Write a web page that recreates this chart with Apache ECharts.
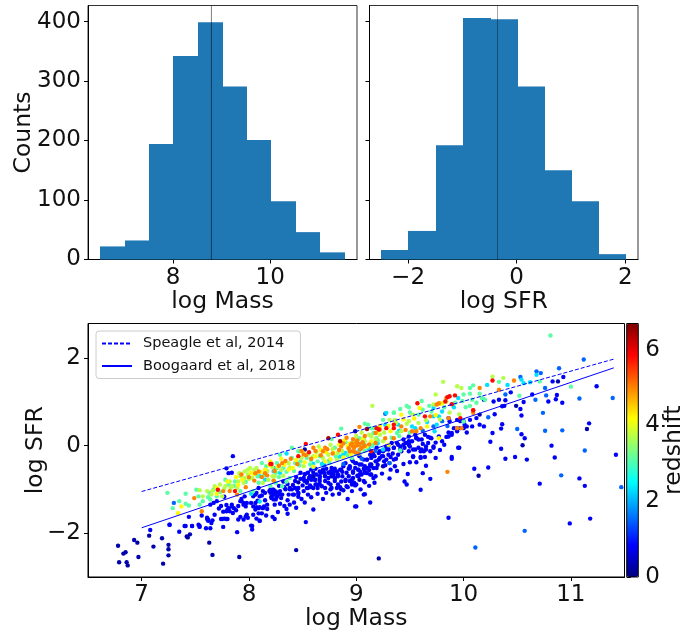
<!DOCTYPE html>
<html><head><meta charset="utf-8">
<style>html,body{margin:0;padding:0;background:#fff}#c{width:698px;height:635px}</style>
<script src="https://cdn.jsdelivr.net/npm/echarts@6/dist/echarts.min.js"></script>
</head><body><div id="c"></div>
<script>
// Histogram of log Mass
const massEdges = [6.5,7.0,7.5,8.0,8.51,9.02,9.52,10.02,10.53,11.03,11.55];
const massCounts = [22,32,194,342,399,291,201,98,46,12];
const massMedian = 8.79;
// Histogram of log SFR
const sfrEdges = [-2.5,-2.0,-1.49,-0.99,-0.47,0.02,0.52,1.02,1.51,2.01];
const sfrCounts = [16,48,192,406,404,291,150,98,9];
const sfrMedian = -0.353;
const countTicks = [0,100,200,300,400];
const massHistTicks = [8,10];
const sfrHistTicks = [-2,0,2];
const scatterXTicks = [7,8,9,10,11];
const scatterYTicks = [-2,0,2];
const redshiftTicks = [0,2,4,6];
// Relations
const speagleLine = [[7,-1.05],[11.4,1.98]];
const boogaardLine = [[7,-1.88],[11.4,1.78]];
// Scatter points [log Mass, log SFR], one list per redshift colour
const zNavy = 0.3, zBlue = 0.8, zSky = 1.5, zCyan = 2.3, zGreen = 3.1, zLime = 3.7, zYellow = 4.2, zOrange = 5.0, zRed = 5.8, zMaroon = 6.4;
const navyPts = [[6.78,-2.29],[6.79,-2.67],[6.83,-2.47],[6.85,-2.44],[6.86,-2.67],[6.87,-2.74],[6.93,-2.16],[6.96,-2.22],[6.97,-2.55],[7.07,-2.06],[7.11,-2.31],[7.19,-2.12],[7.20,-2.70],[7.25,-2.51],[7.25,-2.27],[7.25,-2.37],[7.42,-2.08],[7.43,-2.10],[7.45,-2.03],[7.63,-2.22],[7.66,-2.50],[7.91,-2.55],[8.44,-2.39],[9.21,-2.58],[10.49,0.91],[10.88,1.47],[9.15,-0.18],[9.25,-0.47],[8.77,-0.70],[8.86,-1.00],[10.15,0.71],[9.03,-0.78],[9.31,-0.40],[8.99,0.33],[8.52,-0.09],[10.14,-0.69],[11.15,0.38],[10.55,0.01],[8.60,-0.70],[8.90,-0.81],[9.14,-0.43],[8.46,-0.84],[9.00,-0.40]];
const bluePts = [[7.08,-1.93],[7.26,-1.81],[7.35,-1.97],[7.41,-1.84],[7.47,-1.84],[7.53,-1.81],[7.54,-1.84],[7.60,-1.89],[7.64,-1.89],[7.61,-1.68],[7.62,-1.72],[7.66,-1.71],[7.68,-1.58],[7.76,-1.86],[7.74,-1.68],[7.77,-1.67],[7.80,-1.68],[7.76,-1.51],[7.80,-1.46],[7.89,-1.98],[7.85,-0.24],[7.81,-0.63],[7.84,-0.62],[7.79,-0.52],[7.79,-1.36],[7.84,-1.35],[7.86,-1.43],[7.82,-1.50],[7.93,-1.22],[7.95,-1.31],[7.92,-1.27],[7.97,-1.39],[7.92,-1.63],[7.97,-1.62],[7.99,-1.65],[8.04,-1.58],[8.07,-1.67],[8.02,-1.83],[8.03,-1.92],[8.10,-1.72],[8.16,-1.60],[8.09,-1.55],[8.04,-1.39],[8.07,-1.41],[8.10,-1.41],[8.14,-1.39],[8.07,-1.08],[8.12,-1.14],[8.04,-1.16],[8.08,-1.26],[8.20,-1.08],[8.22,-1.01],[8.25,-1.05],[8.21,-1.20],[8.26,-1.16],[8.29,-1.12],[8.24,-1.35],[8.29,-1.33],[8.25,-1.23],[8.36,-1.56],[8.24,-1.68],[8.33,-1.38],[8.38,-1.35],[8.42,-1.12],[8.45,-1.01],[8.46,-1.10],[8.49,-1.22],[8.53,-1.75],[8.60,-1.46],[8.54,-0.85],[8.57,-0.91],[8.60,-0.97],[8.54,-0.97],[8.64,-0.97],[8.68,-0.93],[8.72,-1.08],[8.77,-0.97],[8.82,-0.97],[8.92,-1.22],[9.00,-1.39],[8.71,-0.70],[8.74,-0.85],[8.77,-0.66],[8.80,-0.74],[8.83,-0.70],[8.86,-0.82],[8.90,-0.78],[8.66,-0.70],[8.62,-0.78],[8.57,-0.70],[8.51,-0.78],[8.94,-0.51],[8.97,-0.62],[9.02,-0.70],[8.91,-0.93],[8.96,-0.89],[8.21,-1.04],[8.23,-1.12],[8.26,-1.17],[8.29,-1.04],[8.46,-0.97],[8.46,-1.08],[8.41,-1.12],[8.37,-1.12],[8.33,-0.95],[8.54,-0.81],[8.58,-0.78],[8.55,-0.97],[8.63,-0.89],[8.66,-0.74],[8.74,-0.62],[8.80,-0.81],[8.83,-0.89],[8.76,-0.89],[8.71,-0.81],[8.66,-0.89],[9.07,-1.12],[9.07,-0.81],[9.00,-0.89],[8.96,-0.78],[8.91,-0.62],[8.94,-0.47],[8.97,-0.59],[9.02,-0.55],[9.05,-0.43],[9.10,-0.32],[9.13,-0.47],[9.08,-0.62],[9.14,-0.66],[9.19,-0.51],[9.21,-0.32],[9.16,-0.74],[8.82,-0.59],[8.86,-0.55],[8.90,-0.40],[8.77,-0.51],[8.69,-0.55],[8.60,-0.62],[8.57,-0.70],[8.51,-0.74],[8.43,-0.81],[8.38,-0.97],[9.95,-0.05],[9.86,0.21],[9.89,0.29],[9.94,0.33],[9.97,0.40],[10.01,0.48],[10.06,0.59],[10.12,0.63],[9.77,0.21],[9.69,0.18],[9.67,0.06],[9.72,-0.02],[9.61,-0.09],[9.60,-0.26],[9.53,-0.26],[9.65,-0.09],[9.55,-0.09],[9.56,0.18],[9.49,0.21],[9.44,0.14],[9.49,0.06],[9.38,0.06],[9.35,-0.05],[9.28,-0.02],[9.22,-0.13],[9.25,-0.24],[9.32,-0.26],[9.16,-0.21],[9.19,-0.05],[9.89,-0.26],[9.64,-0.26],[9.41,-0.09],[11.42,-0.21],[11.24,1.36],[10.93,1.57],[10.83,1.47],[10.92,0.98],[10.87,1.16],[10.86,1.06],[10.79,1.01],[11.17,0.51],[10.82,0.00],[10.85,-0.27],[11.08,-0.75],[11.13,-0.92],[10.71,-0.87],[10.59,-0.32],[10.48,-0.26],[10.39,-0.30],[10.35,-0.07],[10.57,0.17],[10.54,0.26],[10.35,0.39],[10.36,0.49],[10.27,0.29],[10.25,0.09],[10.23,-0.50],[10.10,-0.53],[9.96,-0.05],[9.89,-0.30],[9.69,-0.76],[9.62,-0.63],[9.65,-0.46],[9.60,-1.01],[9.47,-0.89],[9.45,-0.82],[9.48,-0.65],[9.13,-1.30],[9.08,-1.11],[8.99,-1.39],[9.86,-1.65],[10.99,-1.78],[11.18,-1.67],[9.17,-0.85],[9.08,-0.84],[8.98,-0.85],[8.99,-0.91],[8.96,-0.85],[9.05,-0.66],[9.13,-0.66],[9.18,-0.70],[9.31,-0.75],[9.08,-0.55],[9.16,-0.51],[9.32,-0.55],[9.36,-0.47],[9.28,-0.32],[9.22,-0.28],[9.17,-0.24],[9.13,-0.21],[9.07,-0.32],[9.03,-0.43],[8.99,-0.51],[9.35,-0.32],[9.39,-0.21],[9.53,-0.24],[9.56,-0.38],[9.60,-0.28],[9.63,-0.13],[9.69,-0.13],[9.72,-0.05],[9.58,-0.05],[9.53,-0.09],[9.49,0.02],[9.44,0.02],[9.41,-0.02],[9.33,0.06],[9.27,-0.09],[9.49,0.10],[9.58,0.14],[9.67,0.20],[9.70,0.17],[9.55,0.25],[9.84,0.20],[9.89,0.25],[9.94,0.40],[10.00,0.40],[10.03,0.44],[9.97,0.56],[9.86,0.63],[9.87,0.56],[10.15,0.48],[10.19,0.44],[10.29,0.72],[10.28,1.01],[10.33,1.05],[10.36,0.90],[10.38,0.91],[10.39,1.04],[10.44,1.22],[10.53,0.84],[10.54,0.69],[10.56,1.00],[10.64,1.17],[10.19,1.05],
[7.70,-1.27],[7.67,-1.31],[7.64,-1.35],[7.77,-1.17],[7.81,-1.43],[7.79,-1.50],[7.84,-1.39],[7.85,-1.54],[7.93,-1.27],[7.95,-1.35],[7.98,-1.31],[8.02,-1.31],[8.06,-1.31],[8.10,-1.16],[8.15,-1.08],[8.19,-1.04],[8.23,-1.01],[8.06,-1.46],[8.13,-1.43],[8.09,-1.43],[8.17,-1.35],[8.23,-1.23],[8.21,-1.16],[8.13,-1.04],[8.09,-0.97],[8.06,-1.12],[7.96,-1.16],[7.90,-1.69],[7.95,-1.69],[7.62,-1.69],[7.61,-1.65],[7.75,-1.68],[7.79,-1.68],[7.65,-1.77],[7.54,-1.86],[7.47,-1.84],[7.40,-1.84],[7.26,-1.81],[7.44,-1.63],[8.03,-1.84],[8.10,-1.72],[7.98,-1.58],[8.17,-1.45],[8.22,-1.63],
[8.20,-1.00],[8.23,-1.06],[8.21,-1.18],[8.26,-1.08],[8.31,-1.12],[8.40,-1.00],[8.43,-0.97],[8.48,-0.76],[8.52,-0.81],[8.56,-0.74],[8.61,-0.78],[8.63,-0.66],[8.67,-0.62],[8.71,-0.70],[8.74,-0.74],[8.79,-0.66],[8.80,-0.74],[8.83,-0.66],[8.87,-0.70],[8.94,-0.81],[8.97,-0.74],[9.01,-0.69],[9.03,-0.66],[9.07,-0.53],[9.10,-0.51],[9.18,-0.36],[8.99,-0.40],[8.96,-0.32],[8.93,-0.53],[8.88,-0.47],[8.85,-0.55],[8.80,-0.53],[8.76,-0.59],[8.72,-0.53],[8.66,-0.59],[8.62,-0.53],[8.58,-0.55],[8.55,-0.62],[8.52,-0.66],[8.48,-0.62],[8.66,-0.81],[8.62,-0.89],[8.58,-0.95],[8.51,-1.04],[8.46,-1.17],[8.38,-1.00],[8.34,-1.00],[8.92,-0.95],[8.96,-1.04],[8.76,-1.00],[8.71,-0.97],[8.85,-0.95],
[9.10,-0.32],[9.14,-0.28],[9.21,-0.17],[9.25,-0.13],[9.30,-0.09],[9.35,-0.05],[9.39,0.02],[9.24,-0.24],[9.26,-0.36],[9.19,-0.36],[9.13,-0.43],[9.08,-0.47],[8.97,-0.36],[9.03,-0.24],[9.02,-0.55],[9.10,-0.63],[9.30,-0.21],[9.42,-0.13],[9.46,0.06],[9.52,0.10],[9.56,0.17],[9.61,0.14],[9.64,0.25],[9.49,-0.13],[9.60,-0.13],[9.65,-0.02],[9.91,0.40],[9.86,0.30],[9.94,0.59],[10.00,0.56],
[8.32,-0.82],[8.36,-0.88],[8.41,-0.90],[8.44,-0.72],[8.50,-0.91],[8.70,-0.62],[8.79,-0.58],[8.87,-0.60],[8.93,-0.70],[9.04,-0.60],[9.12,-0.56],[9.20,-0.44],[9.27,-0.45],[9.34,-0.18],[9.37,-0.30],[9.45,-0.05],[9.50,-0.02],[9.62,0.04],[9.74,0.07],[9.80,0.10],[8.28,-0.92],[8.36,-1.25],[8.42,-1.30],[8.55,-1.12],[8.15,-1.25],[8.30,-1.20],
[8.44,-1.42],[8.52,-1.30],[8.58,-1.18],[8.64,-1.10],[8.69,-1.22],[8.35,-1.45],[8.27,-1.52],[8.12,-1.55],[7.88,-1.48],[7.90,-1.38],[7.72,-1.44],[7.74,-1.38],[7.56,-1.60],[8.78,-1.12],[8.84,-1.10],[8.88,-1.02],[9.04,-1.00],[9.12,-0.92],[9.24,-0.64],[9.38,-0.58],[9.44,-0.42],[9.50,-0.38],[9.74,-0.28],[9.78,-0.10],[9.82,0.02],[10.03,0.30],[10.08,0.44]];
const skyPts = [[11.47,-0.95],[11.39,1.09],[11.12,1.97],[10.89,1.77],[11.08,1.08],[10.74,0.75],[10.76,0.34],[10.92,0.35],[11.13,-0.11],[10.91,-0.68],[10.11,-2.33],[10.57,-1.95],[10.50,0.38],[10.23,0.65],[10.67,1.05],[10.76,1.32],[10.77,1.15],[10.53,1.57],[10.68,1.70],[10.72,1.66],[9.31,-0.40],[7.30,-1.31],[8.23,-0.51],[9.27,0.73],[10.39,1.17],[9.80,0.56],[9.05,-0.30],[9.18,-0.12],[9.30,0.00],[8.88,-0.42],[8.70,-0.46],[9.62,0.34],[9.72,0.44],[9.85,0.45]];
const cyanPts = [[10.54,1.51],[10.68,1.62],[10.62,1.45],[9.72,0.86],[9.80,0.78],[9.91,0.88],[8.35,-0.18],[8.23,-0.59],[9.07,0.06],[9.27,0.48],[9.28,0.75],[9.39,0.48],[9.52,0.44],[9.95,1.09],[9.77,0.67],[9.72,0.67],[9.75,0.48],[9.73,0.33],[9.25,-0.09],[8.29,-0.62],[10.22,1.39],[10.56,1.43],[10.41,1.39],[8.10,-0.70],[8.15,-0.78],[8.90,-0.17],[9.03,-0.10],[9.11,-0.05],[8.70,-0.38],[8.60,-0.42],[8.85,-0.25],[9.05,0.05],[8.60,-0.50],[8.68,-0.42],[8.75,-0.34],[8.82,-0.28],[8.88,-0.20],[9.00,-0.18],[9.12,-0.08],[9.15,0.00],[9.20,0.05],[8.10,-1.28],[8.02,-1.10],[9.40,0.34],[9.55,0.40],[9.66,0.54]];
const greenPts = [[7.24,-1.08],[7.41,-1.10],[7.35,-1.27],[7.29,-1.43],[7.41,-1.33],[7.44,-1.37],[7.51,-1.01],[10.81,2.52],[11.00,1.35],[10.71,1.47],[9.41,0.84],[9.35,0.75],[9.61,1.02],[9.47,0.91],[9.49,0.88],[10.09,1.38],[10.06,1.32],[10.06,1.19],[10.33,1.46],[10.52,1.14],[9.58,0.71],[10.00,1.17],[9.99,1.02],[10.06,0.91],[8.86,0.39],[8.40,-0.05],[8.40,-0.28],[8.46,-0.13],[8.80,-0.05],[8.77,0.15],[9.08,0.50],[9.11,0.48],[8.57,-0.43],[9.14,0.40],[9.35,0.76],[9.50,0.76],[9.68,0.91],[9.25,0.59],[9.38,0.29],[9.41,-0.11],[10.00,0.55],[8.31,-0.93],[8.38,-0.74],[8.12,-0.40],[8.16,-0.47],[8.09,-0.85],[8.04,-1.04],[7.92,-1.04],[7.67,-1.01],[7.64,-1.23],[7.70,-1.16],[7.57,-1.27],[7.54,-1.35],[7.53,-1.16],[7.63,-1.08],[7.78,-0.78],[7.81,-0.89],[7.87,-0.82],[8.23,-0.80],[8.29,-0.21],[8.66,-0.24],[8.48,-0.36],[8.43,-0.40],[8.26,-0.40],[8.26,-0.51],[8.32,-0.51],[8.54,-0.28],[8.90,0.08],[8.97,0.10],[9.07,0.17],[9.03,0.17],[9.16,0.29],[9.19,0.17],[9.17,0.40],[10.15,1.19],[10.20,1.05],[10.17,1.09],[7.62,-1.18],[7.73,-1.06],[7.86,-0.92],[7.97,-0.83],[8.08,-0.70],[8.14,-0.68],[8.25,-0.62],[8.28,-0.72],[8.35,-0.60],[8.42,-0.58],[8.47,-0.45],[8.58,-0.33],[8.64,-0.36],[8.75,-0.40],[8.81,-0.25],[8.92,-0.22],[8.96,-0.28],[9.03,-0.18],[9.08,-0.12],[9.15,0.02],[9.20,0.12],[9.33,0.18],[9.40,0.22],[9.50,0.30],[9.62,0.82],[9.70,0.78],[9.82,0.88],[9.92,0.98],[10.02,0.88],[10.08,1.05],[10.12,0.98],[8.20,-0.92],[8.25,-0.85],[8.35,-0.82]];
const limePts = [[9.81,1.46],[9.94,1.36],[9.98,1.32],[9.74,1.17],[9.15,0.91],[10.27,1.58],[10.37,1.55],[9.84,1.01],[7.54,-1.02],[7.57,-1.16],[7.61,-1.04],[7.65,-1.12],[7.68,-0.93],[7.73,-0.89],[7.75,-1.16],[7.84,-0.93],[7.89,-0.97],[7.92,-0.70],[7.96,-0.74],[7.95,-0.85],[7.99,-0.66],[8.01,-0.51],[8.03,-0.74],[8.13,-0.85],[8.18,-0.78],[8.22,-0.70],[7.90,-0.82],[7.82,-0.82],[7.96,-0.59],[7.99,-0.55],[8.07,-0.51],[7.78,-0.93],[8.24,-0.70],[8.32,-0.69],[8.51,-0.47],[8.60,-0.24],[8.74,-0.21],[8.83,-0.17],[9.14,0.21],[9.22,0.25],[9.42,0.33],[9.49,0.56],[9.53,0.71],[9.72,0.94],[9.31,0.59],[9.36,0.59],[8.65,-0.02],[8.82,-0.32],[8.76,0.02],[8.37,-0.40],[9.04,-0.02],[9.08,0.10],[8.99,0.12],[8.93,-0.08],[9.18,0.15],[9.25,0.10],[7.66,-1.03],[7.77,-0.98],[7.83,-0.97],[7.91,-0.63],[8.00,-0.76],[8.05,-0.55],[8.17,-0.58],[8.22,-0.50],[8.30,-0.56],[8.38,-0.50],[8.49,-0.28],[8.55,-0.20],[8.63,-0.15],[8.69,-0.28],[8.78,-0.08],[8.87,-0.12],[9.00,0.22],[9.05,0.30],[9.12,0.25],[9.26,0.30],[9.37,0.52],[9.47,0.50],[9.58,0.52],[9.65,0.58],[9.78,0.60],[9.87,0.76],[9.96,0.72]];
const yellowPts = [[7.34,-1.54],[7.37,-1.39],[8.20,-0.36],[8.37,-0.55],[8.41,-0.51],[8.71,-0.36],[8.76,-0.31],[8.79,-0.17],[8.92,-0.02],[9.30,0.02],[9.42,0.71],[9.59,0.86],[9.80,0.97],[9.66,0.44],[9.32,0.33],[9.77,0.17],[9.78,0.96],[9.14,0.10],[8.98,0.05],[9.06,0.15],[9.10,-0.02],[8.62,-0.25],[8.50,-0.15],[8.30,-0.30],[8.15,-0.55],[8.05,-0.65],[7.90,-0.90],[7.70,-1.10],[9.20,0.30],[8.88,-0.27],[8.95,-0.20],[7.70,-0.97],[7.80,-0.82],[7.88,-0.72],[7.94,-0.78],[8.02,-0.62],[8.11,-0.60],[8.19,-0.45],[8.27,-0.48],[8.33,-0.44],[8.44,-0.33],[8.52,-0.38],[8.60,-0.48],[8.67,-0.10],[8.72,-0.15],[8.84,0.02],[8.89,0.12],[8.94,0.05],[9.22,0.45],[9.30,0.45],[9.44,0.60],[9.54,0.62],[9.74,0.70]];
const orangePts = [[7.49,-1.20],[7.56,-1.50],[7.76,-1.04],[7.82,-1.04],[7.89,-1.12],[7.93,-0.66],[8.06,-0.63],[8.15,-0.63],[8.09,-0.59],[9.85,-0.60],[10.15,1.32],[10.47,1.49],[10.33,1.28],[9.84,1.09],[9.75,0.94],[9.69,0.67],[10.09,0.75],[9.77,0.97],[8.60,-0.05],[8.71,-0.05],[8.69,-0.13],[8.86,-0.02],[8.97,-0.02],[9.02,0.02],[8.94,-0.13],[8.51,-0.20],[8.91,0.18],[9.03,0.43],[8.31,-0.40],[8.23,-0.80],[9.18,0.29],[9.22,0.37],[9.42,0.44],[9.46,0.36],[9.86,0.63],[9.94,0.40],[9.98,0.40],[9.60,0.40],[9.52,0.33],[9.56,0.33],[9.27,0.17],[9.35,0.17],[9.18,0.06],[10.09,0.81],[8.97,-0.13],[9.00,0.08],[9.05,-0.05],[9.12,0.03],[8.95,0.02],[9.08,0.00],[8.96,0.05],[8.98,-0.05],[9.00,0.00],[9.01,0.12],[9.03,0.04],[9.04,-0.08],[9.02,-0.18],[9.06,0.08],[8.99,-0.15],[8.97,0.15],[9.07,-0.02],[9.08,0.22],[8.00,-0.72],[8.05,-0.80],[8.12,-0.72],[8.17,-0.68],[8.24,-0.58],[8.28,-0.46],[8.34,-0.35],[8.39,-0.30],[8.45,-0.42],[8.49,-0.12],[8.53,-0.22],[8.58,-0.30],[8.62,-0.12],[8.67,-0.22],[8.73,-0.08],[8.78,-0.18],[8.84,-0.10],[8.88,0.05],[8.93,-0.06],[7.97,-0.95]];
const redPts = [[7.71,-1.01],[7.87,-1.04],[8.20,-0.42],[10.27,1.49],[9.57,0.97],[9.92,1.15],[9.87,1.13],[9.83,1.01],[9.64,0.67],[10.09,0.81],[8.83,0.25],[8.53,0.04],[8.46,-0.24],[8.56,-0.15],[8.21,-0.42],[9.21,0.37],[9.19,0.40],[9.28,0.40],[9.35,0.48],[9.35,0.40],[9.85,1.11],[9.89,0.95],[9.97,0.63],[9.14,-0.13]];
const maroonPts = [[8.74,0.17],[8.85,0.10],[9.10,0.38]];

const colorGroups = [[navyPts,zNavy],[bluePts,zBlue],[skyPts,zSky],[cyanPts,zCyan],[greenPts,zGreen],[limePts,zLime],[yellowPts,zYellow],[orangePts,zOrange],[redPts,zRed],[maroonPts,zMaroon]];
const scatterData = [];
colorGroups.forEach(([pts,z]) => pts.forEach(p => scatterData.push([p[0],p[1],z])));
const binsOf = (edges,counts) => counts.map((c,i)=>[edges[i],edges[i+1],c]);
const FONT = '"DejaVu Sans"';
const minus = v => String(v).replace('-','\u2212');
const histItem = (params, api) => {
  const a = api.coord([api.value(0),0]), b = api.coord([api.value(1),api.value(2)]);
  const x0 = Math.round(a[0]), x1 = Math.round(b[0]);
  return {type:'rect',shape:{x:x0,y:b[1],width:x1-x0,height:a[1]-b[1]},style:{fill:'#1f77b4'}};
};
const axisCommon = (ticks,extra,labelExtra) => Object.assign({
  type:'value', scale:true, splitLine:{show:false},
  axisLine:{show:true,onZero:false,lineStyle:{color:'#000',width:1}},
  axisTick:{show:true,customValues:ticks,length:4,lineStyle:{color:'#000',width:1}},
  axisLabel:Object.assign({show:true,customValues:ticks,fontFamily:FONT,fontSize:23,color:'#111',margin:7,formatter:minus},labelExtra),
  nameTextStyle:{fontFamily:FONT,fontSize:23.5,color:'#111'}, nameLocation:'middle', nameMoveOverlap:false
},extra);
const yShift = {padding:[6,0,0,0]};

const chart = echarts.init(document.getElementById('c'),null,{renderer:'canvas'});
chart.setOption({
  animation:false, backgroundColor:'#fff',
  grid:[
    {left:88,top:5.5,width:269,height:254,show:true,borderColor:'#333',borderWidth:1,backgroundColor:'transparent'},
    {left:369.5,top:5.5,width:268.5,height:254,show:true,borderColor:'#333',borderWidth:1,backgroundColor:'transparent'},
    {left:88,top:323.5,width:536.5,height:253.5,show:true,borderColor:'#000',borderWidth:1,backgroundColor:'transparent'},
    {left:626.7,top:323.5,width:11.6,height:253.5,show:true,borderColor:'#000',borderWidth:1,backgroundColor:'transparent',z:10}
  ],
  xAxis:[
    axisCommon(massHistTicks,{gridIndex:0,min:6.247,max:11.79,name:'log Mass',nameGap:30}),
    axisCommon(sfrHistTicks,{gridIndex:1,min:-2.71,max:2.234,name:'log SFR',nameGap:30}),
    axisCommon(scatterXTicks,{gridIndex:2,min:6.5,max:11.5,name:'log Mass',nameGap:30}),
    {type:'value',gridIndex:3,min:0,max:1,show:false}
  ],
  yAxis:[
    axisCommon(countTicks,{gridIndex:0,min:0,max:427,name:'Counts',nameGap:52},yShift),
    axisCommon(countTicks,{gridIndex:1,min:0,max:427},{show:false}),
    axisCommon(scatterYTicks,{gridIndex:2,min:-3.006,max:2.795,name:'log SFR',nameGap:40},yShift),
    axisCommon(redshiftTicks,{gridIndex:3,min:0,max:6.69,position:'right',axisLine:{show:false},name:'redshift',nameGap:24,nameRotate:90},yShift)
  ],
  legend:{
    left:96, top:331, orient:'vertical', itemWidth:30, itemHeight:14, itemGap:7.5, padding:[5,5,5,5],
    backgroundColor:'rgba(255,255,255,0.8)', borderColor:'#ccc', borderWidth:1, borderRadius:3,
    itemStyle:{opacity:0},
    data:['Speagle et al, 2014','Boogaard et al, 2018'],
    textStyle:{fontFamily:FONT,fontSize:14.5,color:'#111',padding:[0,0,0,6]}
  },
  visualMap:{
    type:'continuous', seriesIndex:4, dimension:2, min:0, max:6.69, show:true,
    left:626.7, top:323.5, itemWidth:11.6, itemHeight:253.5, padding:0, text:null, showLabel:false, calculable:false, hoverLink:false,
    inRange:{color:['#00007f','#0000ff','#007fff','#00ffff','#7fff7f','#ffff00','#ff7f00','#ff0000','#7f0000']},
    textStyle:{fontSize:0}
  },
  series:[
    {type:'custom',xAxisIndex:0,yAxisIndex:0,data:binsOf(massEdges,massCounts),renderItem:histItem,encode:{x:[0,1],y:2}},
    {type:'line',xAxisIndex:0,yAxisIndex:0,data:[[massMedian,0],[massMedian,427]],symbol:'none',lineStyle:{color:'#000',width:1,opacity:0.5},z:3},
    {type:'custom',xAxisIndex:1,yAxisIndex:1,data:binsOf(sfrEdges,sfrCounts),renderItem:histItem,encode:{x:[0,1],y:2}},
    {type:'line',xAxisIndex:1,yAxisIndex:1,data:[[sfrMedian,0],[sfrMedian,427]],symbol:'none',lineStyle:{color:'#000',width:1,opacity:0.35},z:3},
    {type:'scatter',xAxisIndex:2,yAxisIndex:2,data:scatterData,symbol:'circle',symbolSize:4.4,itemStyle:{opacity:1}},
    {type:'line',name:'Speagle et al, 2014',xAxisIndex:2,yAxisIndex:2,data:speagleLine,symbol:'none',itemStyle:{color:'#0000ff'},lineStyle:{color:'#0000ff',width:1,type:[4,2]},z:3},
    {type:'line',name:'Boogaard et al, 2018',xAxisIndex:2,yAxisIndex:2,data:boogaardLine,symbol:'none',itemStyle:{color:'#0000ff'},lineStyle:{color:'#0000ff',width:1},z:3},
    {type:'custom',xAxisIndex:3,yAxisIndex:3,data:[],renderItem:()=>null}
  ]
});
</script></body></html>
